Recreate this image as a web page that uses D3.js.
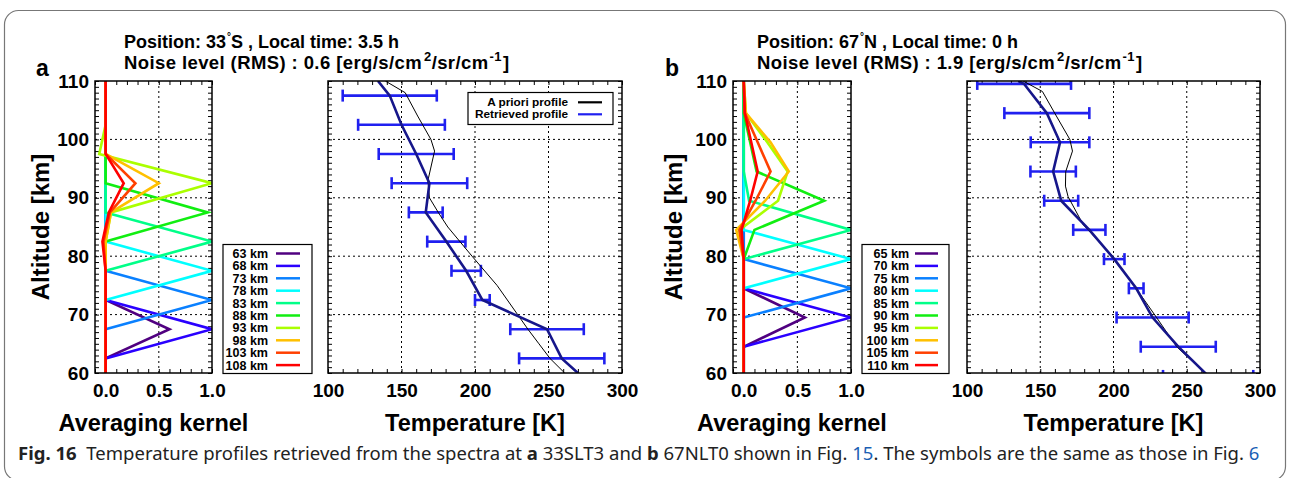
<!DOCTYPE html>
<html>
<head>
<meta charset="utf-8">
<script src="https://cdn.jsdelivr.net/npm/d3@7"></script>
<style>
  body { margin: 0; background: #fff; }
  svg { display: block; }
</style>
</head>
<body>
<div id="chart"></div>
<script>
// ---- data ----
var kernelColors = ["#500080", "#2a00ff", "#0a80ff", "#00ffff", "#00ff88",
                    "#11ee11", "#aaff00", "#ffc000", "#ff4000", "#ff0000"];

var kernelLabelsA = ["63 km", "68 km", "73 km", "78 km", "83 km", "88 km", "93 km", "98 km", "103 km", "108 km"];
var kernelAltA = [60, 62.5, 67.5, 72.5, 77.5, 82.5, 87.5, 92.5, 97.5, 100, 102.5, 107.5, 110];
var kernelA = [
  [0, 0, 0.6, 0, 0, 0, 0, 0, 0, 0, 0, 0, 0],
  [0, 0, 1.0, 0, 0, 0, 0, 0, 0, 0, 0, 0, 0],
  [0, 0, 0, 1.0, 0, 0, 0, 0, 0, 0, 0, 0, 0],
  [0, 0, 0, 0, 1.0, 0, 0, 0, 0, 0, 0, 0, 0],
  [0, 0, 0, 0, 0, 1.0, 0, 0, 0, 0, 0, 0, 0],
  [0, 0, 0, 0, 0, 0, 0.96, 0, 0, 0, 0, 0, 0],
  [0, 0, 0, 0, 0, 0, 0.05, 1.0, -0.06, -0.03, 0, 0, 0],
  [0, 0, 0, 0, 0, 0, 0.05, 0.5, 0, 0, 0, 0, 0],
  [0, 0, 0, 0, 0, -0.02, 0.04, 0.28, 0, 0, 0, 0, 0],
  [0, 0, 0, 0, 0, -0.03, 0.03, 0.17, 0, 0, 0, 0, 0]
];

var kernelLabelsB = ["65 km", "70 km", "75 km", "80 km", "85 km", "90 km", "95 km", "100 km", "105 km", "110 km"];
var kernelAltB = [60, 64.5, 69.5, 74.5, 79.5, 84.5, 89.5, 94.5, 99.5, 104.5, 110];
var kernelB = [
  [0, 0, 0.57, 0, 0, 0, 0, 0, 0, 0, 0],
  [0, 0, 1.0, 0, 0, 0, 0, 0, 0, 0, 0],
  [0, 0, 0, 1.0, 0, 0, 0, 0, 0, 0, 0],
  [0, 0, 0, 0, 1.0, 0, 0, 0, 0, 0, 0],
  [0, 0, 0, 0, 0, 1.0, 0.05, 0, 0, 0, 0],
  [0, 0, 0, 0, 0, 0.1, 0.75, 0.12, 0.06, 0, 0],
  [0, 0, 0, 0, 0, -0.04, 0.32, 0.41, 0.22, 0.02, 0],
  [0, 0, 0, 0, 0, -0.07, 0.2, 0.42, 0.25, 0.02, 0],
  [0, 0, 0, 0, 0, -0.04, 0.11, 0.25, 0.13, 0.01, 0],
  [0, 0, 0, 0, 0, -0.02, 0.06, 0.13, 0.07, 0.01, 0]
];

var retAltA = [60, 62.5, 67.5, 72.5, 77.5, 82.5, 87.5, 92.5, 97.5, 102.5, 107.5, 110];
var retTempA = [270, 259, 249, 205, 194, 180.5, 166.5, 169, 160, 150, 142, 134];
var barAltA = [62.5, 67.5, 72.5, 77.5, 82.5, 87.5, 92.5, 97.5, 102.5, 107.5];
var barTempA = [259, 249, 205, 194, 180.5, 166.5, 169, 160, 150, 142];
var barErrA = [29, 25, 5, 10, 13, 11.5, 25.7, 25.5, 29.5, 32];
var aprAltA = [60, 62.5, 65, 67.5, 70, 75, 80, 85, 87.5, 90, 93, 98, 100, 104, 108, 110];
var aprTempA = [261, 251, 243.5, 236, 229, 215, 198, 181.5, 175, 169, 168, 172.5, 170, 161, 152.5, 139];

var retAltB = [59.5, 64.5, 69.5, 74.5, 79.5, 84.5, 89.5, 94.5, 99.5, 104.5, 109.5, 110];
var retTempB = [264.6, 244.2, 226.7, 215.5, 200.5, 183.5, 164.3, 158.8, 163.5, 154.5, 139, 135];
var barAltB = [59.5, 64.5, 69.5, 74.5, 79.5, 84.5, 89.5, 94.5, 99.5, 104.5, 109.5];
var barTempB = [264.6, 244.2, 226.7, 215.5, 200.5, 183.5, 164.3, 158.8, 163.5, 154.5, 139];
var barErrB = [30.8, 25.6, 24.6, 5, 7, 11, 11.6, 15.5, 20, 29, 32];
var aprAltB = [60, 64.5, 69.5, 75, 80, 85.4, 90.2, 92, 94.5, 98, 100, 104, 108.2, 110];
var aprTempB = [262.4, 243.1, 229.4, 214, 199.4, 179.3, 169, 167.2, 167.4, 172, 170.2, 161, 151.5, 138.3];

var altTicks = [60, 70, 80, 90, 100, 110];
var altGrid = [70, 80, 90, 100];
var kernelTicks = [0, 0.5, 1.0];
var tempTicks = [100, 150, 200, 250, 300];
var profileLabels = ["A priori profile", "Retrieved profile"];

var panelLetters = ["a", "b"];
var latitudes = ["33", "67"];
var hemispheres = ["S", "N"];
var localTimes = ["3.5", "0"];
var noiseLevels = ["0.6", "1.9"];

// ---- drawing ----
var FONT = "'Liberation Sans', Arial, Helvetica, sans-serif";
var W = 1290, H = 478;
var svg = d3.select("#chart").append("svg").attr("width", W).attr("height", H)
  .style("font-family", FONT);
var defs = svg.append("defs");

// outer frame
svg.append("rect").attr("x", 4.5).attr("y", 10.5).attr("width", 1281).attr("height", 470)
  .attr("rx", 14).attr("fill", "none").attr("stroke", "#777").attr("stroke-width", 1.2);

var y = d3.scaleLinear().domain([60, 110]).range([373, 81]);

function box(g, x, xGrid, xMinor, id) {
  var x0 = x.range()[0], x1 = x.range()[1];
  defs.append("clipPath").attr("id", id).append("rect")
    .attr("x", x0).attr("y", y(110)).attr("width", x1 - x0).attr("height", y(60) - y(110));

  var grid = g.append("g").attr("stroke", "#000").attr("stroke-width", 1).attr("stroke-dasharray", "2,3");
  grid.selectAll(".gx").data(xGrid).join("line")
    .attr("x1", x).attr("x2", x).attr("y1", y(60)).attr("y2", y(110));
  grid.selectAll(".gy").data(altGrid).join("line")
    .attr("x1", x0).attr("x2", x1).attr("y1", y).attr("y2", y);

  function clean(a) { a.select(".domain").remove(); a.selectAll("line").attr("stroke", "#000"); }
  var altMinor = d3.range(60, 111, 1);
  g.append("g").attr("transform", "translate(" + x0 + ",0)")
    .call(d3.axisLeft(y).tickValues(altMinor).tickSize(-4).tickFormat("")).call(clean);
  g.append("g").attr("transform", "translate(" + x1 + ",0)")
    .call(d3.axisRight(y).tickValues(altMinor).tickSize(-4).tickFormat("")).call(clean);
  g.append("g").attr("transform", "translate(0," + y(60) + ")")
    .call(d3.axisBottom(x).tickValues(xMinor).tickSize(-4).tickFormat("")).call(clean);
  g.append("g").attr("transform", "translate(0," + y(110) + ")")
    .call(d3.axisTop(x).tickValues(xMinor).tickSize(-4).tickFormat("")).call(clean);
}

function frameRect(g, x) {
  var x0 = x.range()[0], x1 = x.range()[1];
  g.append("rect").attr("x", x0).attr("y", y(110)).attr("width", x1 - x0).attr("height", y(60) - y(110))
    .attr("fill", "none").attr("stroke", "#000").attr("stroke-width", 1.5);
}

function labelAxis(g, axis, transform) {
  g.append("g").attr("transform", transform).call(axis)
    .call(function (a) {
      a.select(".domain").remove();
      a.selectAll("text").attr("font-family", FONT).attr("font-weight", "bold")
        .attr("font-size", 19).attr("fill", "#000");
    });
}

function drawPanel(i, p) {
  var g = svg.append("g");
  var xk = d3.scaleLinear().domain([-0.1, 1.0]).range(p.kx);
  var xt = d3.scaleLinear().domain([100, 300]).range(p.tx);

  // --- averaging kernel plot ---
  box(g, xk, [0.5], d3.range(-0.1, 1.0001, 0.1), "ck" + i);
  var line = d3.line().x(function (d) { return xk(d[1]); }).y(function (d) { return y(d[0]); });
  g.append("g").attr("clip-path", "url(#ck" + i + ")")
    .selectAll("path").data(p.kernel).join("path")
    .attr("d", function (row) { return line(row.map(function (v, j) { return [p.kernelAlt[j], v]; })); })
    .attr("fill", "none").attr("stroke", function (d, j) { return kernelColors[j]; })
    .attr("stroke-width", 2.6).attr("stroke-linejoin", "miter");
  frameRect(g, xk);

  labelAxis(g, d3.axisLeft(y).tickValues(altTicks).tickSize(0).tickPadding(6).tickFormat(d3.format("d")),
    "translate(" + p.kx[0] + ",0)");
  labelAxis(g, d3.axisBottom(xk).tickValues(kernelTicks).tickSize(0).tickPadding(11).tickFormat(d3.format(".1f")),
    "translate(0," + y(60) + ")");

  // kernel legend
  var lg = g.append("g");
  lg.append("rect").attr("x", p.kleg[0]).attr("y", 244.5).attr("width", p.kleg[1] - p.kleg[0]).attr("height", 129)
    .attr("fill", "#fff").attr("stroke", "#000").attr("stroke-width", 1.2);
  var rows = lg.selectAll("g").data(p.kernelLabels).join("g")
    .attr("transform", function (d, j) { return "translate(0," + (253.5 + j * 12.4) + ")"; });
  rows.append("text").attr("x", p.kleg[2]).attr("y", 4.5).attr("text-anchor", "end")
    .attr("font-size", 12.5).attr("font-weight", "bold").text(function (d) { return d; });
  rows.append("line").attr("x1", p.kleg[3]).attr("x2", p.kleg[4]).attr("y1", 0).attr("y2", 0)
    .attr("stroke", function (d, j) { return kernelColors[j]; }).attr("stroke-width", 2.5);

  // --- temperature plot ---
  box(g, xt, [150, 200, 250], d3.range(100, 301, 10), "ct" + i);
  var tg = g.append("g").attr("clip-path", "url(#ct" + i + ")");
  var bars = tg.append("g").attr("stroke", "#2020f0").attr("stroke-width", 2.6);
  var bd = p.barAlt.map(function (a, j) { return { a: a, t: p.barTemp[j], e: p.barErr[j] }; });
  bars.selectAll(".h").data(bd).join("line")
    .attr("x1", function (d) { return xt(d.t - d.e); }).attr("x2", function (d) { return xt(d.t + d.e); })
    .attr("y1", function (d) { return y(d.a); }).attr("y2", function (d) { return y(d.a); });
  bars.selectAll(".cl").data(bd).join("line")
    .attr("x1", function (d) { return xt(d.t - d.e); }).attr("x2", function (d) { return xt(d.t - d.e); })
    .attr("y1", function (d) { return y(d.a) - 6; }).attr("y2", function (d) { return y(d.a) + 6; });
  bars.selectAll(".cr").data(bd).join("line")
    .attr("x1", function (d) { return xt(d.t + d.e); }).attr("x2", function (d) { return xt(d.t + d.e); })
    .attr("y1", function (d) { return y(d.a) - 6; }).attr("y2", function (d) { return y(d.a) + 6; });

  var tline = d3.line().x(function (d) { return xt(d[1]); }).y(function (d) { return y(d[0]); });
  tg.append("path").attr("d", tline(p.aprAlt.map(function (a, j) { return [a, p.aprTemp[j]]; })))
    .attr("fill", "none").attr("stroke", "#000").attr("stroke-width", 1);
  tg.append("path").attr("d", tline(p.retAlt.map(function (a, j) { return [a, p.retTemp[j]]; })))
    .attr("fill", "none").attr("stroke", "#16168a").attr("stroke-width", 2.6);
  frameRect(g, xt);

  labelAxis(g, d3.axisBottom(xt).tickValues(tempTicks).tickSize(0).tickPadding(11).tickFormat(d3.format("d")),
    "translate(0," + y(60) + ")");

  if (p.tleg) {
    var tl = g.append("g");
    tl.append("rect").attr("x", p.tleg[0]).attr("y", 92.5).attr("width", p.tleg[1] - p.tleg[0]).attr("height", 32)
      .attr("fill", "#fff").attr("stroke", "#000").attr("stroke-width", 1.2);
    var tr = tl.selectAll("g").data(profileLabels).join("g")
      .attr("transform", function (d, j) { return "translate(0," + (102.3 + j * 12) + ")"; });
    tr.append("text").attr("x", p.tleg[2]).attr("y", 4).attr("text-anchor", "end")
      .attr("font-size", 11.8).attr("font-weight", "bold").text(function (d) { return d; });
    tr.append("line").attr("x1", p.tleg[3]).attr("x2", p.tleg[4]).attr("y1", 0).attr("y2", 0)
      .attr("stroke", function (d, j) { return j ? "#2020f0" : "#000"; }).attr("stroke-width", 2.2);
  }

  // --- titles ---
  g.append("text").attr("transform", "translate(" + p.altX + ",227) rotate(-90)")
    .attr("text-anchor", "middle").attr("font-size", 24).attr("font-weight", "bold").text("Altitude [km]");
  g.append("text").attr("x", (p.kx[0] + p.kx[1]) / 2).attr("y", 431).attr("text-anchor", "middle")
    .attr("font-size", 23.5).attr("font-weight", "bold").text("Averaging kernel");
  g.append("text").attr("x", (p.tx[0] + p.tx[1]) / 2).attr("y", 431).attr("text-anchor", "middle")
    .attr("font-size", 23.5).attr("font-weight", "bold").text("Temperature [K]");

  g.append("text").attr("x", p.letterX).attr("y", 76).attr("font-size", 23).attr("font-weight", "bold")
    .text(panelLetters[i]);

  var t1 = g.append("text").attr("x", p.titleX).attr("y", 48).attr("font-size", 18).attr("font-weight", "bold");
  t1.append("tspan").text("Position: " + latitudes[i]);
  t1.append("tspan").attr("dy", -8).attr("dx", 1).attr("font-size", 10).text("\u00b0");
  t1.append("tspan").attr("dy", 8).text(hemispheres[i] + " , Local time: " + localTimes[i] + " h");

  var t2 = g.append("text").attr("x", p.titleX).attr("y", 69).attr("font-size", 18.5).attr("font-weight", "bold")
    .attr("letter-spacing", 0.4);
  t2.append("tspan").text("Noise level (RMS) : " + noiseLevels[i] + " [erg/s/cm");
  t2.append("tspan").attr("dy", -8).attr("dx", 2).attr("font-size", 13).text("2");
  t2.append("tspan").attr("dy", 8).text("/sr/cm");
  t2.append("tspan").attr("dy", -8).attr("dx", 1).attr("font-size", 13).text("-1");
  t2.append("tspan").attr("dy", 8).attr("dx", 1).text("]");
}

drawPanel(0, {
  kx: [95, 212], tx: [328, 622], kleg: [223, 312, 268, 276, 300], tleg: [468, 613, 568, 578, 602],
  altX: 49, letterX: 36, titleX: 124,
  kernel: kernelA, kernelAlt: kernelAltA, kernelLabels: kernelLabelsA,
  retAlt: retAltA, retTemp: retTempA, barAlt: barAltA, barTemp: barTempA, barErr: barErrA,
  aprAlt: aprAltA, aprTemp: aprTempA
});
drawPanel(1, {
  kx: [733, 851], tx: [967, 1260], kleg: [862, 949, 909, 915, 938], tleg: null,
  altX: 682, letterX: 665, titleX: 757,
  kernel: kernelB, kernelAlt: kernelAltB, kernelLabels: kernelLabelsB,
  retAlt: retAltB, retTemp: retTempB, barAlt: barAltB, barTemp: barTempB, barErr: barErrB,
  aprAlt: aprAltB, aprTemp: aprTempB
});

// caption
var capParts = [
  { t: "Fig. 16", b: true },
  { t: " Temperature profiles retrieved from the spectra at ", dx: 5 },
  { t: "a", b: true },
  { t: " 33SLT3 and " },
  { t: "b", b: true },
  { t: " 67NLT0 shown in Fig. " },
  { t: "15", c: "#1a5fb4" },
  { t: ". The symbols are the same as those in Fig. " },
  { t: "6", c: "#1a5fb4" }
];
svg.append("text").attr("x", 18).attr("y", 460).attr("font-family", "'Noto Sans', 'Open Sans', sans-serif")
  .attr("font-size", 18.5).attr("xml:space", "preserve")
  .selectAll("tspan").data(capParts).join("tspan")
  .attr("dx", function (d) { return d.dx || null; })
  .attr("font-weight", function (d) { return d.b ? "bold" : "normal"; })
  .attr("fill", function (d) { return d.c || "#222"; })
  .text(function (d) { return d.t; });
</script>
</body>
</html>
